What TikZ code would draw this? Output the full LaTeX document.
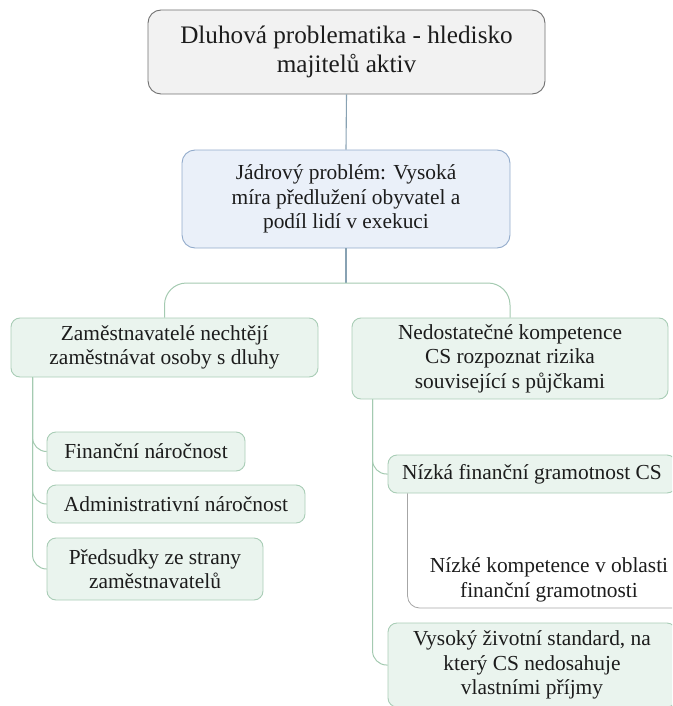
\documentclass[tikz,border=0pt]{standalone}
\usepackage{fontspec}
\setmainfont{Liberation Serif}
\definecolor{topfill}{HTML}{F2F2F2}
\definecolor{topdraw}{HTML}{707070}
\definecolor{bluefill}{HTML}{EAF0F9}
\definecolor{bluedraw}{HTML}{92ABCB}
\definecolor{blueline}{HTML}{88A2B3}
\definecolor{greenfill}{HTML}{EAF4EE}
\definecolor{greendraw}{HTML}{A9CDB6}
\definecolor{greenline}{HTML}{A4CAB1}
\definecolor{grayline}{HTML}{A6A6A6}
\definecolor{txtcol}{HTML}{1C1C1C}
\begin{document}
\begin{tikzpicture}[x=1pt,y=-1pt,
  txt/.style={text=txtcol, align=center, inner sep=0pt, font=\fontsize{21.4}{24.5}\selectfont},
  topbox/.style={txt, draw=topdraw, fill=topfill, rounded corners=13pt, line width=0.9pt, font=\fontsize{25.2}{29}\selectfont},
  bluebox/.style={txt, draw=bluedraw, fill=bluefill, rounded corners=13pt, line width=0.9pt},
  greenbox/.style={txt, draw=greendraw, fill=greenfill, rounded corners=9pt, line width=0.9pt},
  conblue/.style={draw=blueline, line width=1.1pt},
  congreen/.style={draw=greenline, line width=1pt},
  congray/.style={draw=grayline, line width=0.8pt}
]
\useasboundingbox (0,0) rectangle (672,706);
\clip (0,0) rectangle (672,706);

\node[topbox, minimum width=397pt, minimum height=84pt] (top) at (346.5,52) {Dluhová problematika - hledisko\\majitelů aktiv};
\node[bluebox, minimum width=328pt, minimum height=98pt] (blue) at (346,199) {Jádrový problém: Vysoká\\míra předlužení obyvatel a\\podíl lidí v exekuci};

\node[greenbox, minimum width=307pt, minimum height=59pt] (L) at (164.5,347.5) {Zaměstnavatelé nechtějí\\zaměstnávat osoby s dluhy};
\node[greenbox, minimum width=316pt, minimum height=81pt] (R) at (510,358.5) {Nedostatečné kompetence\\CS rozpoznat rizika\\související s půjčkami};

\node[greenbox, minimum width=198pt, minimum height=39pt] (F1) at (146,451.5) {Finanční náročnost};
\node[greenbox, minimum width=258pt, minimum height=38pt] (F2) at (176,504) {Administrativní náročnost};
\node[greenbox, minimum width=216pt, minimum height=62pt] (F3) at (155,569) {Předsudky ze strany\\zaměstnavatelů};

\node[greenbox, minimum width=288pt, minimum height=38pt] (R1) at (532,474) {Nízká finanční gramotnost CS};
\node[txt] (R1a) at (549,580) {Nízké kompetence v oblasti\\finanční gramotnosti};
\node[greenbox, minimum width=288pt, minimum height=84pt] (R2) at (532,665) {Vysoký životní standard, na\\který CS nedosahuje\\vlastními příjmy};

% connectors
\draw[conblue] (top.south) -- (blue.north);
\coordinate (br) at (346,283);
\draw[conblue] (blue.south) -- (br);
\draw[congreen, rounded corners=22pt] (L.north) |- (br) -| (R.north);

\draw[congreen, rounded corners=14pt] ([xshift=22pt]L.south west) |- (F1.west);
\draw[congreen, rounded corners=14pt] ([xshift=22pt]L.south west) |- (F2.west);
\draw[congreen, rounded corners=14pt] ([xshift=22pt]L.south west) |- (F3.west);

\draw[congreen, rounded corners=14pt] ([xshift=21pt]R.south west) |- (R1.west);
\draw[congreen, rounded corners=14pt] ([xshift=21pt]R.south west) |- (R2.west);

\coordinate (r1end) at (690,608);
\draw[congray, rounded corners=12pt] ([xshift=20pt]R1.south west) |- (r1end);
\end{tikzpicture}
\end{document}
